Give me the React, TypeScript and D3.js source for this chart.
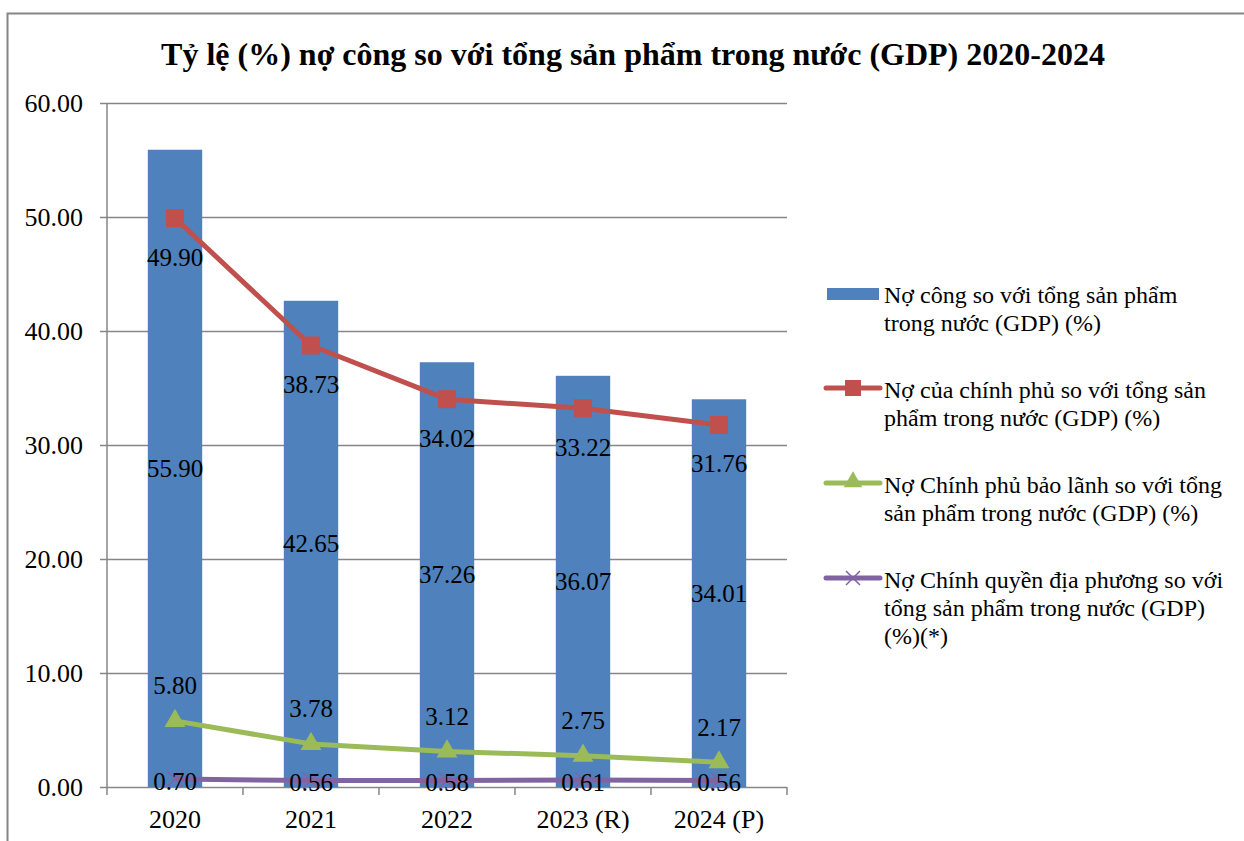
import * as d3 from "d3";
import { useEffect, useRef } from "react";

const categories = ["2020", "2021", "2022", "2023 (R)", "2024 (P)"];
const publicDebt = [55.9, 42.65, 37.26, 36.07, 34.01];
const govDebt = [49.9, 38.73, 34.02, 33.22, 31.76];
const guaranteedDebt = [5.8, 3.78, 3.12, 2.75, 2.17];
const localDebt = [0.7, 0.56, 0.58, 0.61, 0.56];
const yTicks = [0, 10, 20, 30, 40, 50, 60];

const seriesNames = [
  ["Nợ công so với tổng sản phẩm", "trong nước (GDP) (%)"],
  ["Nợ của chính phủ so với tổng sản", "phẩm trong nước (GDP) (%)"],
  ["Nợ Chính phủ bảo lãnh so với tổng", "sản phẩm trong nước (GDP) (%)"],
  ["Nợ Chính quyền địa phương so với", "tổng sản phẩm trong nước (GDP)", "(%)(*)"],
];

const BLUE = "#4F81BD";
const RED = "#C0504D";
const GREEN = "#9BBB59";
const PURPLE = "#8064A2";
const GRID = "#868686";
const FONT = "'Liberation Serif', 'Times New Roman', serif";

const draw = (ref) => {
  const svg = d3.select(ref.current);
  svg.selectAll("*").remove();

  const plot = { x1: 107, x2: 787, y1: 103, y2: 787 };
  const x = d3.scaleBand().domain(categories).range([plot.x1, plot.x2]).paddingInner(0.6).paddingOuter(0.3);
  const xc = (c) => x(c) + x.bandwidth() / 2;
  const y = d3.scaleLinear().domain([0, 60]).range([plot.y2, plot.y1]);

  // outer frame
  svg.append("rect").attr("x", 7.5).attr("y", 13.5).attr("width", 1250).attr("height", 840)
    .attr("fill", "white").attr("stroke", GRID).attr("stroke-width", 2);

  svg.append("text").attr("x", 633).attr("y", 65).attr("text-anchor", "middle")
    .attr("font-family", FONT).attr("font-weight", "bold").attr("font-size", 32)
    .text("Tỷ lệ (%) nợ công so với tổng sản phẩm trong nước (GDP) 2020-2024");

  // gridlines and y axis
  const yAxis = d3.axisLeft(y).tickValues(yTicks).tickSize(-(plot.x2 - plot.x1)).tickPadding(24)
    .tickFormat(d3.format(".2f"));
  const gy = svg.append("g").attr("transform", `translate(${plot.x1},0)`).call(yAxis);
  gy.attr("font-family", FONT);
  gy.select(".domain").remove();
  gy.selectAll(".tick line").attr("stroke", GRID).attr("stroke-width", 1.5).attr("x1", -7);
  gy.selectAll(".tick text").attr("font-family", FONT).attr("font-size", 26).attr("fill", "#000");

  svg.append("line").attr("x1", plot.x1).attr("x2", plot.x1).attr("y1", plot.y1).attr("y2", plot.y2)
    .attr("stroke", GRID).attr("stroke-width", 1.5);

  // category ticks at band boundaries
  const step = x.step();
  const bounds = d3.range(categories.length + 1).map((i) => plot.x1 + i * step);
  svg.append("g").selectAll("line").data(bounds).join("line")
    .attr("x1", (d) => d).attr("x2", (d) => d).attr("y1", plot.y2).attr("y2", plot.y2 + 8)
    .attr("stroke", GRID).attr("stroke-width", 1.5);
  svg.append("g").selectAll("text").data(categories).join("text")
    .attr("x", (d) => xc(d)).attr("y", 828).attr("text-anchor", "middle")
    .attr("font-family", FONT).attr("font-size", 26).text((d) => d);

  // bars
  svg.append("g").selectAll("rect").data(publicDebt).join("rect")
    .attr("x", (d, i) => x(categories[i])).attr("width", x.bandwidth())
    .attr("y", (d) => y(d)).attr("height", (d) => y(0) - y(d)).attr("fill", BLUE);

  const line = d3.line().x((d, i) => xc(categories[i])).y((d) => y(d));
  const drawLine = (data, color) =>
    svg.append("path").datum(data).attr("d", line).attr("fill", "none")
      .attr("stroke", color).attr("stroke-width", 5).attr("stroke-linejoin", "round");

  drawLine(localDebt, PURPLE);
  svg.append("g").selectAll("path").data(localDebt).join("path")
    .attr("transform", (d, i) => `translate(${xc(categories[i])},${y(d)})`)
    .attr("d", "M-8,-8L8,8M-8,8L8,-8").attr("stroke", PURPLE).attr("stroke-width", 1.5);

  drawLine(guaranteedDebt, GREEN);
  svg.append("g").selectAll("path").data(guaranteedDebt).join("path")
    .attr("transform", (d, i) => `translate(${xc(categories[i])},${y(d)})`)
    .attr("d", d3.symbol(d3.symbolTriangle, 190)()).attr("fill", GREEN);

  drawLine(govDebt, RED);
  svg.append("g").selectAll("rect").data(govDebt).join("rect")
    .attr("x", (d, i) => xc(categories[i]) - 9).attr("y", (d) => y(d) - 9)
    .attr("width", 18).attr("height", 18).attr("fill", RED);

  // data labels
  const labels = svg.append("g").attr("font-family", FONT).attr("font-size", 25)
    .attr("text-anchor", "middle").attr("dominant-baseline", "central");
  const fmt = d3.format(".2f");
  publicDebt.forEach((d, i) =>
    labels.append("text").attr("x", xc(categories[i])).attr("y", (y(d) + y(0)) / 2).text(fmt(d)));
  govDebt.forEach((d, i) =>
    labels.append("text").attr("x", xc(categories[i])).attr("y", y(d) + 39).text(fmt(d)));
  guaranteedDebt.forEach((d, i) =>
    labels.append("text").attr("x", xc(categories[i])).attr("y", y(d) - 35).text(fmt(d)));
  localDebt.forEach((d, i) =>
    labels.append("text").attr("x", xc(categories[i])).attr("y", y(d) + 2).text(fmt(d)));

  // legend
  const legendY = [295, 390, 485, 580];
  const leg = svg.append("g");
  seriesNames.forEach((lines, i) => {
    const g = leg.append("g").attr("transform", `translate(0,${legendY[i]})`);
    if (i === 0) {
      g.append("rect").attr("x", 827).attr("y", -7).attr("width", 52).attr("height", 12).attr("fill", BLUE);
    } else {
      const col = [RED, GREEN, PURPLE][i - 1];
      g.append("line").attr("x1", 826).attr("x2", 880).attr("y1", -2).attr("y2", -2)
        .attr("stroke", col).attr("stroke-width", 5).attr("stroke-linecap", "round");
      if (i === 1) g.append("rect").attr("x", 845).attr("y", -10).attr("width", 16).attr("height", 16).attr("fill", RED);
      if (i === 2) g.append("path").attr("transform", "translate(853,-3)").attr("d", d3.symbol(d3.symbolTriangle, 150)()).attr("fill", GREEN);
      if (i === 3) g.append("path").attr("d", "M846,-9L860,5M846,5L860,-9").attr("stroke", PURPLE).attr("stroke-width", 1.5);
    }
    const t = g.append("text").attr("font-family", FONT).attr("font-size", 24)
      .attr("x", 884).attr("y", 0).attr("dominant-baseline", "central");
    lines.forEach((s, k) => t.append("tspan").attr("x", 884).attr("dy", k === 0 ? 0 : 28).text(s));
  });
};

export default function App() {
  const ref = useRef(null);
  useEffect(() => {
    draw(ref);
  }, []);
  return (
    <svg ref={ref} width={1244} height={841}
      style={{ position: "absolute", left: 0, top: 0, background: "white" }} />
  );
}
